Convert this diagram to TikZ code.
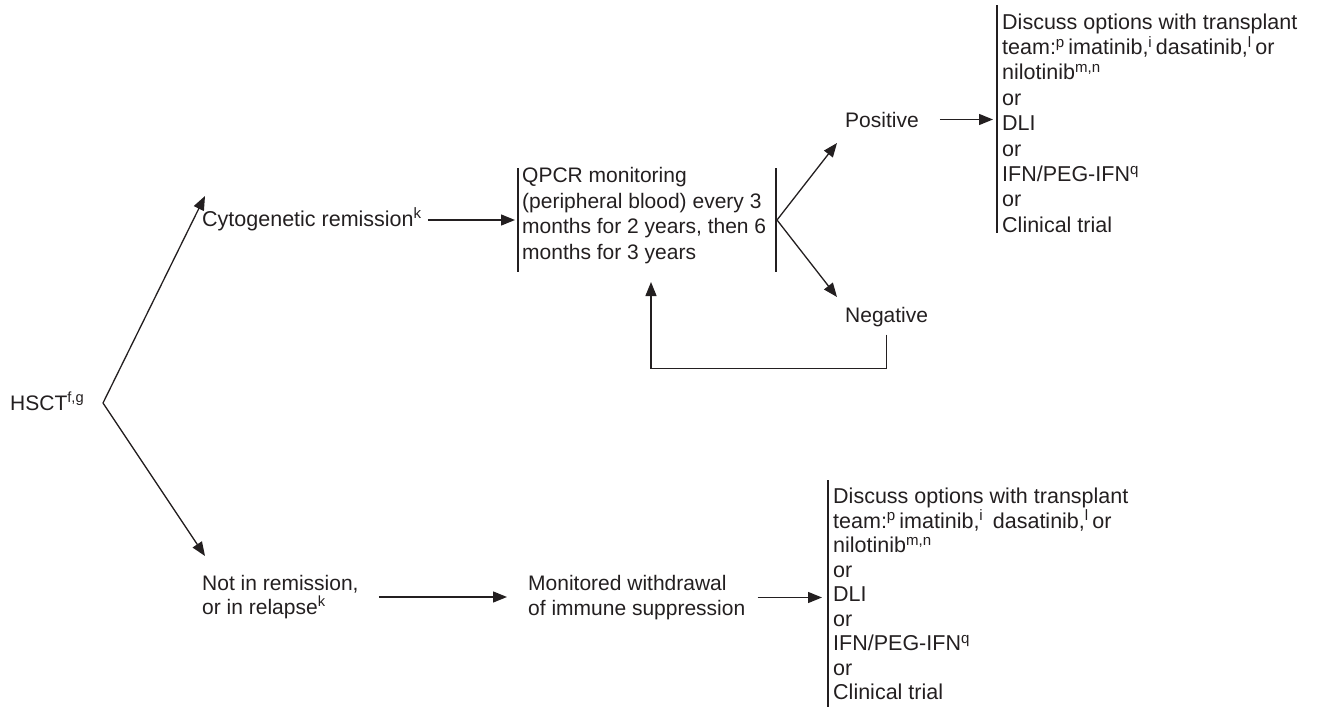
\documentclass[tikz,border=0pt]{standalone}
\usepackage{fontspec}
\setmainfont{Liberation Sans}
\usetikzlibrary{arrows.meta}
\definecolor{ink}{HTML}{231F20}

\begin{document}
\begin{tikzpicture}[x=1pt,y=-1pt,
  lbl/.style={inner sep=0pt, text=ink, align=left,
    font=\fontsize{21}{25}\selectfont},
  optlist/.style={lbl, anchor=north west,
    font=\fontsize{21.5}{25.4}\selectfont},
  conn/.style={draw=ink, line width=1.3pt,
    -{Triangle[length=14pt,width=11pt]}},
  bar/.style={draw=ink, line width=1.3pt},
]
\useasboundingbox (0,0) rectangle (1319,707);

% ---- text blocks ----
\node[lbl, anchor=base west] (hsct) at (10,410) {HSCT\textsuperscript{f,g}};
\node[lbl, anchor=base west, font=\fontsize{21.5}{25}\selectfont] (cyto) at (202,226)
  {Cytogenetic remission\textsuperscript{k}};
\node[lbl, anchor=north west, font=\fontsize{21}{25.5}\selectfont] (qpcr) at (522,167.5)
  {QPCR monitoring\\(peripheral blood) every 3\\months for 2 years, then 6\\months for 3 years};
\node[lbl, anchor=base west] (pos) at (845,127) {Positive};
\node[lbl, anchor=base west] (neg) at (845,322) {Negative};
\node[optlist] (optA) at (1002,13.4)
  {Discuss options with transplant\\
   team:\textsuperscript{p}\,imatinib,\textsuperscript{i}\,dasatinib,\textsuperscript{l}\,or\\
   nilotinib\textsuperscript{m,n}\\or\\DLI\\or\\IFN/PEG-IFN\textsuperscript{q}\\or\\Clinical trial};
\node[lbl, anchor=north west, font=\fontsize{21}{24}\selectfont] (notrem) at (202,575)
  {Not in remission,\\or in relapse\textsuperscript{k}};
\node[lbl, anchor=north west] (withdraw) at (528,575)
  {Monitored withdrawal\\of immune suppression};
\node[optlist, font=\fontsize{21.5}{24.5}\selectfont] (optB) at (833,488)
  {Discuss options with transplant\\
   team:\textsuperscript{p}\,imatinib,\textsuperscript{i}\ \,dasatinib,\textsuperscript{l}\,or\\
   nilotinib\textsuperscript{m,n}\\or\\DLI\\or\\IFN/PEG-IFN\textsuperscript{q}\\or\\Clinical trial};

% ---- bracket bars beside the blocks ----
\draw[bar] (518,168) -- (518,272);
\draw[bar] (776,168) -- (776,272);
\draw[bar] (997,5) -- (997,233);
\draw[bar] (828,480) -- (828,707);

% ---- branch points and arrow ends ----
\coordinate (fork)  at (103,403);
\coordinate (upTip) at (205,196);
\coordinate (dnTip) at (205,556);
\coordinate (split) at (777,220);
\coordinate (posTip) at (837,143);
\coordinate (negTip) at (837,297);
\coordinate (loopTip) at (651,282);

% ---- connectors ----
\draw[conn] (fork) -- (upTip);
\draw[conn] (fork) -- (dnTip);
\draw[conn] (split) -- (posTip);
\draw[conn] (split) -- (negTip);
\draw[conn, shorten <=6pt, shorten >=7pt] (cyto.east |- split) -- (qpcr.west |- split);
\draw[conn, shorten <=21pt, shorten >=9pt] (pos.east) -- (pos.east -| optA.west);
\draw[conn, shorten <=8pt] (neg.south) -- ++(0,42) -| (loopTip);
\draw[conn, shorten <=20pt, shorten >=21pt] (notrem.east) -- (notrem.east -| withdraw.west);
\draw[conn, shorten <=12pt, shorten >=11pt] (withdraw.east) -- (withdraw.east -| optB.west);
\end{tikzpicture}
\end{document}
